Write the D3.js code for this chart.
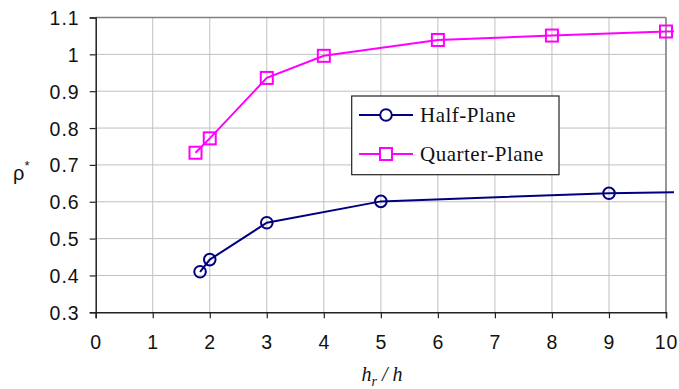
<!DOCTYPE html>
<html>
<head>
<meta charset="utf-8">
<script src="https://cdn.jsdelivr.net/npm/d3@7"></script>
<style>
  html, body { margin: 0; padding: 0; background: #fff; }
  svg { display: block; }
</style>
</head>
<body>
<svg id="chart" width="679" height="389"></svg>
<script>
// ---- data ----
const halfX  = [1.83, 2, 3, 5, 9, 12];
const halfY  = [0.41, 0.443, 0.543, 0.601, 0.623, 0.63];
const quarterX = [1.75, 2, 3, 4, 6, 8, 10, 12];
const quarterY = [0.733, 0.772, 0.936, 0.996, 1.039, 1.051, 1.062, 1.07];
const xTicks = [0, 1, 2, 3, 4, 5, 6, 7, 8, 9, 10];
const yTicks = [0.3, 0.4, 0.5, 0.6, 0.7, 0.8, 0.9, 1.0, 1.1];
const seriesNames = ["Half-Plane", "Quarter-Plane"];
const seriesColors = ["#000080", "#ff00ff"];

const svg = d3.select("#chart");
const L = 95.7, R = 666, T = 17.5, B = 312.3;
const x = d3.scaleLinear().domain([0, 10]).range([L, R]);
const y = d3.scaleLinear().domain([0.3, 1.1]).range([B, T]);

// clip (lines run slightly past the right edge)
svg.append("defs").append("clipPath").attr("id", "clip")
  .append("rect").attr("x", L).attr("y", 0).attr("width", 674 - L).attr("height", B + 2);

// gridlines
const grid = svg.append("g");
grid.selectAll("line.v").data(xTicks.slice(1)).join("line")
  .attr("x1", d => x(d)).attr("x2", d => x(d)).attr("y1", T).attr("y2", B)
  .attr("stroke", "#c0c0c0").attr("stroke-width", 1);
grid.selectAll("line.h").data(yTicks.slice(1)).join("line")
  .attr("x1", L).attr("x2", R).attr("y1", d => y(d)).attr("y2", d => y(d))
  .attr("stroke", "#c0c0c0").attr("stroke-width", 1);

// top & right border
svg.append("line").attr("x1", L).attr("x2", R).attr("y1", T).attr("y2", T)
  .attr("stroke", "#808080").attr("stroke-width", 1.5);
svg.append("line").attr("x1", R).attr("x2", R).attr("y1", T).attr("y2", B)
  .attr("stroke", "#808080").attr("stroke-width", 1.5);

// axes
const fontSans = "'Liberation Sans', Arial, sans-serif";
const xAxis = svg.append("g").attr("transform", `translate(0,${B})`)
  .call(d3.axisBottom(x).tickValues(xTicks).tickSize(6).tickPadding(17).tickFormat(d3.format("d")));
const yAxis = svg.append("g").attr("transform", `translate(${L},0)`)
  .call(d3.axisLeft(y).tickValues(yTicks).tickSize(6).tickPadding(10).tickFormat(d => d3.format("")(+d.toFixed(1))));
[xAxis, yAxis].forEach(a => {
  a.select(".domain").attr("stroke", "#222").attr("stroke-width", 1.5);
  a.selectAll(".tick line").attr("stroke", "#222").attr("stroke-width", 1.2);
  a.selectAll("text").attr("font-family", fontSans).attr("font-size", 19.5)
    .attr("fill", "#111").attr("letter-spacing", "1px");
});
xAxis.selectAll("text").attr("dy", "0.71em");
yAxis.selectAll("text").attr("dy", "0.36em");

// series
const line = d3.line().x(d => x(d[0])).y(d => y(d[1]));
const plot = svg.append("g").attr("clip-path", "url(#clip)");
const halfData = halfX.map((v, i) => [v, halfY[i]]);
const quarterData = quarterX.map((v, i) => [v, quarterY[i]]);

plot.append("path").datum(quarterData).attr("d", line)
  .attr("fill", "none").attr("stroke", seriesColors[1]).attr("stroke-width", 2);
plot.selectAll("rect.q").data(quarterData.filter(d => d[0] <= 10)).join("rect")
  .attr("x", d => x(d[0]) - 6).attr("y", d => y(d[1]) - 6)
  .attr("width", 12).attr("height", 12)
  .attr("fill", "none").attr("stroke", seriesColors[1]).attr("stroke-width", 2);

plot.append("path").datum(halfData).attr("d", line)
  .attr("fill", "none").attr("stroke", seriesColors[0]).attr("stroke-width", 2);
plot.selectAll("circle.h").data(halfData.filter(d => d[0] <= 10)).join("circle")
  .attr("cx", d => x(d[0])).attr("cy", d => y(d[1])).attr("r", 5.8)
  .attr("fill", "none").attr("stroke", seriesColors[0]).attr("stroke-width", 2);

// legend
const fontSerif = "'Liberation Serif', 'Times New Roman', serif";
const lg = svg.append("g");
lg.append("rect").attr("x", 351.7).attr("y", 96).attr("width", 207.3).attr("height", 78.7)
  .attr("fill", "#fff").attr("stroke", "#222").attr("stroke-width", 1.2);
[115, 154].forEach((yy, i) => {
  lg.append("line").attr("x1", 359).attr("x2", 413).attr("y1", yy).attr("y2", yy)
    .attr("stroke", seriesColors[i]).attr("stroke-width", 2);
  if (i === 0) {
    lg.append("circle").attr("cx", 386).attr("cy", yy).attr("r", 5.8)
      .attr("fill", "#fff").attr("stroke", seriesColors[0]).attr("stroke-width", 2);
  } else {
    lg.append("rect").attr("x", 380).attr("y", yy - 6).attr("width", 12).attr("height", 12)
      .attr("fill", "#fff").attr("stroke", seriesColors[1]).attr("stroke-width", 2);
  }
  lg.append("text").attr("x", 420).attr("y", yy + 7).text(seriesNames[i])
    .attr("font-family", fontSerif).attr("font-size", 21).attr("fill", "#111")
    .attr("letter-spacing", "0.5px");
});

// axis titles
const xt = svg.append("text").attr("x", 382).attr("y", 381)
  .attr("text-anchor", "middle").attr("font-family", fontSerif).attr("font-size", 20)
  .attr("font-style", "italic").attr("fill", "#111");
xt.append("tspan").text("h");
xt.append("tspan").text("r").attr("font-size", 14).attr("dy", 5);
xt.append("tspan").text(" / h").attr("dy", -5);

const yt = svg.append("text").attr("x", 13).attr("y", 180)
  .attr("font-family", fontSans).attr("font-size", 20).attr("fill", "#111");
yt.append("tspan").text("ρ");
yt.append("tspan").text("*").attr("font-size", 13).attr("dy", -10);
</script>
</body>
</html>
